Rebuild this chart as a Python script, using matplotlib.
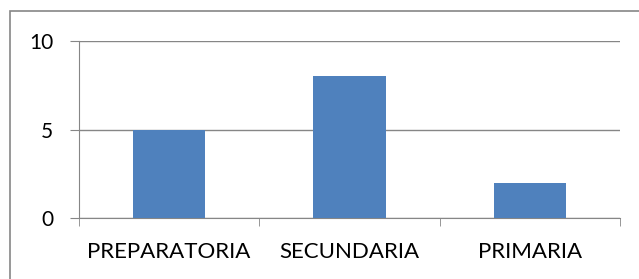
import numpy as np
import matplotlib.pyplot as plt
from matplotlib.patches import Rectangle

categories = ["PREPARATORIA", "SECUNDARIA", "PRIMARIA"]
values = [5, 8, 2]
yticks = [0, 5, 10]

plt.rcParams['font.family'] = ['Lato', 'DejaVu Sans']

fig = plt.figure(figsize=(6.39, 2.79), dpi=100)
ax = fig.add_axes([79/639, 61/279, 541/639, 177/279])

# outer chart box, cropped at right and bottom
fig.patches.append(Rectangle((9.5/639, -0.1), 1.2, (279 - 11)/279 + 0.1, transform=fig.transFigure,
                             fill=False, edgecolor="#868686", linewidth=1.2))

x = np.arange(len(categories))
ax.bar(x, values, width=0.4, color="#4F81BD", zorder=3)

ax.set_xlim(-0.5, len(categories) - 0.5)
ax.set_ylim(0, 10)
ax.set_yticks(yticks)
ax.set_xticks(x)
ax.set_xticklabels(categories)
ax.set_xticks(np.arange(len(categories) + 1) - 0.5, minor=True)

ax.grid(axis="y", color="#868686", linewidth=1, zorder=0)
for s in ["top", "right"]:
    ax.spines[s].set_visible(False)
for s in ["left", "bottom"]:
    ax.spines[s].set_color("#868686")
ax.tick_params(axis="y", length=6.5, color="#868686", labelsize=15, pad=12)
ax.tick_params(axis="x", which="major", length=0, labelsize=16, pad=17)
ax.tick_params(axis="x", which="minor", length=6, color="#868686")

plt.savefig("out.png", dpi=100)
